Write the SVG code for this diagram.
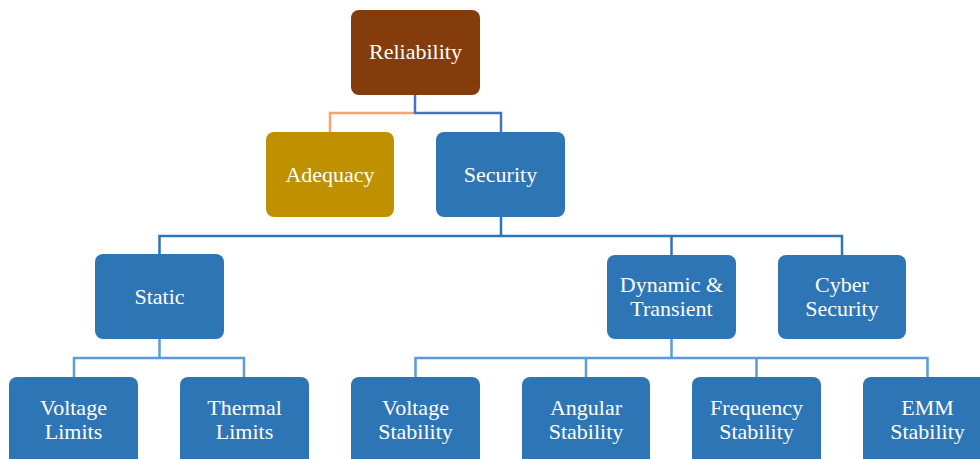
<svg xmlns="http://www.w3.org/2000/svg" width="980" height="459" viewBox="0 0 980 459">
<style>
.box{stroke:none}
.blue{fill:#2E75B6}
.t{font-family:"Liberation Serif","Times New Roman",serif;font-size:22px;fill:#FFFFFF;text-anchor:middle}
.c{fill:none;stroke-width:2.5}
</style>
<rect width="980" height="459" fill="#FFFFFF"/>
<g id="connectors">
<polyline class="c" stroke="#F4A475" stroke-width="2" points="415,113 330,113 330,132"/>
<polyline class="c" stroke="#4472C4" points="415,95 415,113 501,113 501,132"/>
<polyline class="c" stroke="#2E75B6" points="501,217 501,236"/>
<polyline class="c" stroke="#2E75B6" points="159.5,254 159.5,236 842,236 842,255"/>
<polyline class="c" stroke="#2E75B6" points="671.5,236 671.5,255"/>
<polyline class="c" stroke="#5B9BD5" points="159.5,339 159.5,358"/>
<polyline class="c" stroke="#5B9BD5" points="74,377 74,358 244,358 244,377"/>
<polyline class="c" stroke="#5B9BD5" points="671.5,339 671.5,358"/>
<polyline class="c" stroke="#5B9BD5" points="415.5,377 415.5,358 927.5,358 927.5,377"/>
<polyline class="c" stroke="#5B9BD5" points="586,358 586,377"/>
<polyline class="c" stroke="#5B9BD5" points="756.5,358 756.5,377"/>
</g>
<g id="reliability"><rect x="351" y="10" width="129" height="85" rx="8" fill="#843C0C"/><text class="t" x="415.5" y="59">Reliability</text></g>
<g id="adequacy"><rect x="266" y="132" width="128" height="85" rx="8" fill="#BF9000"/><text class="t" x="330" y="182">Adequacy</text></g>
<g id="security"><rect x="436" y="132" width="129" height="85" rx="8" class="blue"/><text class="t" x="500.5" y="182">Security</text></g>
<g id="static"><rect x="95" y="254" width="129" height="85" rx="8" class="blue"/><text class="t" x="159.5" y="304">Static</text></g>
<g id="dynamic"><rect x="607" y="255" width="129" height="84" rx="8" class="blue"/><text class="t" x="671.5" y="292">Dynamic &amp;</text><text class="t" x="671.5" y="316">Transient</text></g>
<g id="cyber"><rect x="778" y="255" width="128" height="84" rx="8" class="blue"/><text class="t" x="842" y="292">Cyber</text><text class="t" x="842" y="316">Security</text></g>
<g id="voltage-limits"><rect x="9" y="377" width="129" height="90" rx="8" class="blue"/><text class="t" x="73.5" y="415">Voltage</text><text class="t" x="73.5" y="439">Limits</text></g>
<g id="thermal-limits"><rect x="180" y="377" width="129" height="90" rx="8" class="blue"/><text class="t" x="244.5" y="415">Thermal</text><text class="t" x="244.5" y="439">Limits</text></g>
<g id="voltage-stability"><rect x="351" y="377" width="129" height="90" rx="8" class="blue"/><text class="t" x="415.5" y="415">Voltage</text><text class="t" x="415.5" y="439">Stability</text></g>
<g id="angular-stability"><rect x="522" y="377" width="128" height="90" rx="8" class="blue"/><text class="t" x="586" y="415">Angular</text><text class="t" x="586" y="439">Stability</text></g>
<g id="frequency-stability"><rect x="692" y="377" width="129" height="90" rx="8" class="blue"/><text class="t" x="756.5" y="415">Frequency</text><text class="t" x="756.5" y="439">Stability</text></g>
<g id="emm-stability"><rect x="863" y="377" width="129" height="90" rx="8" class="blue"/><text class="t" x="927.5" y="415">EMM</text><text class="t" x="927.5" y="439">Stability</text></g>
</svg>
